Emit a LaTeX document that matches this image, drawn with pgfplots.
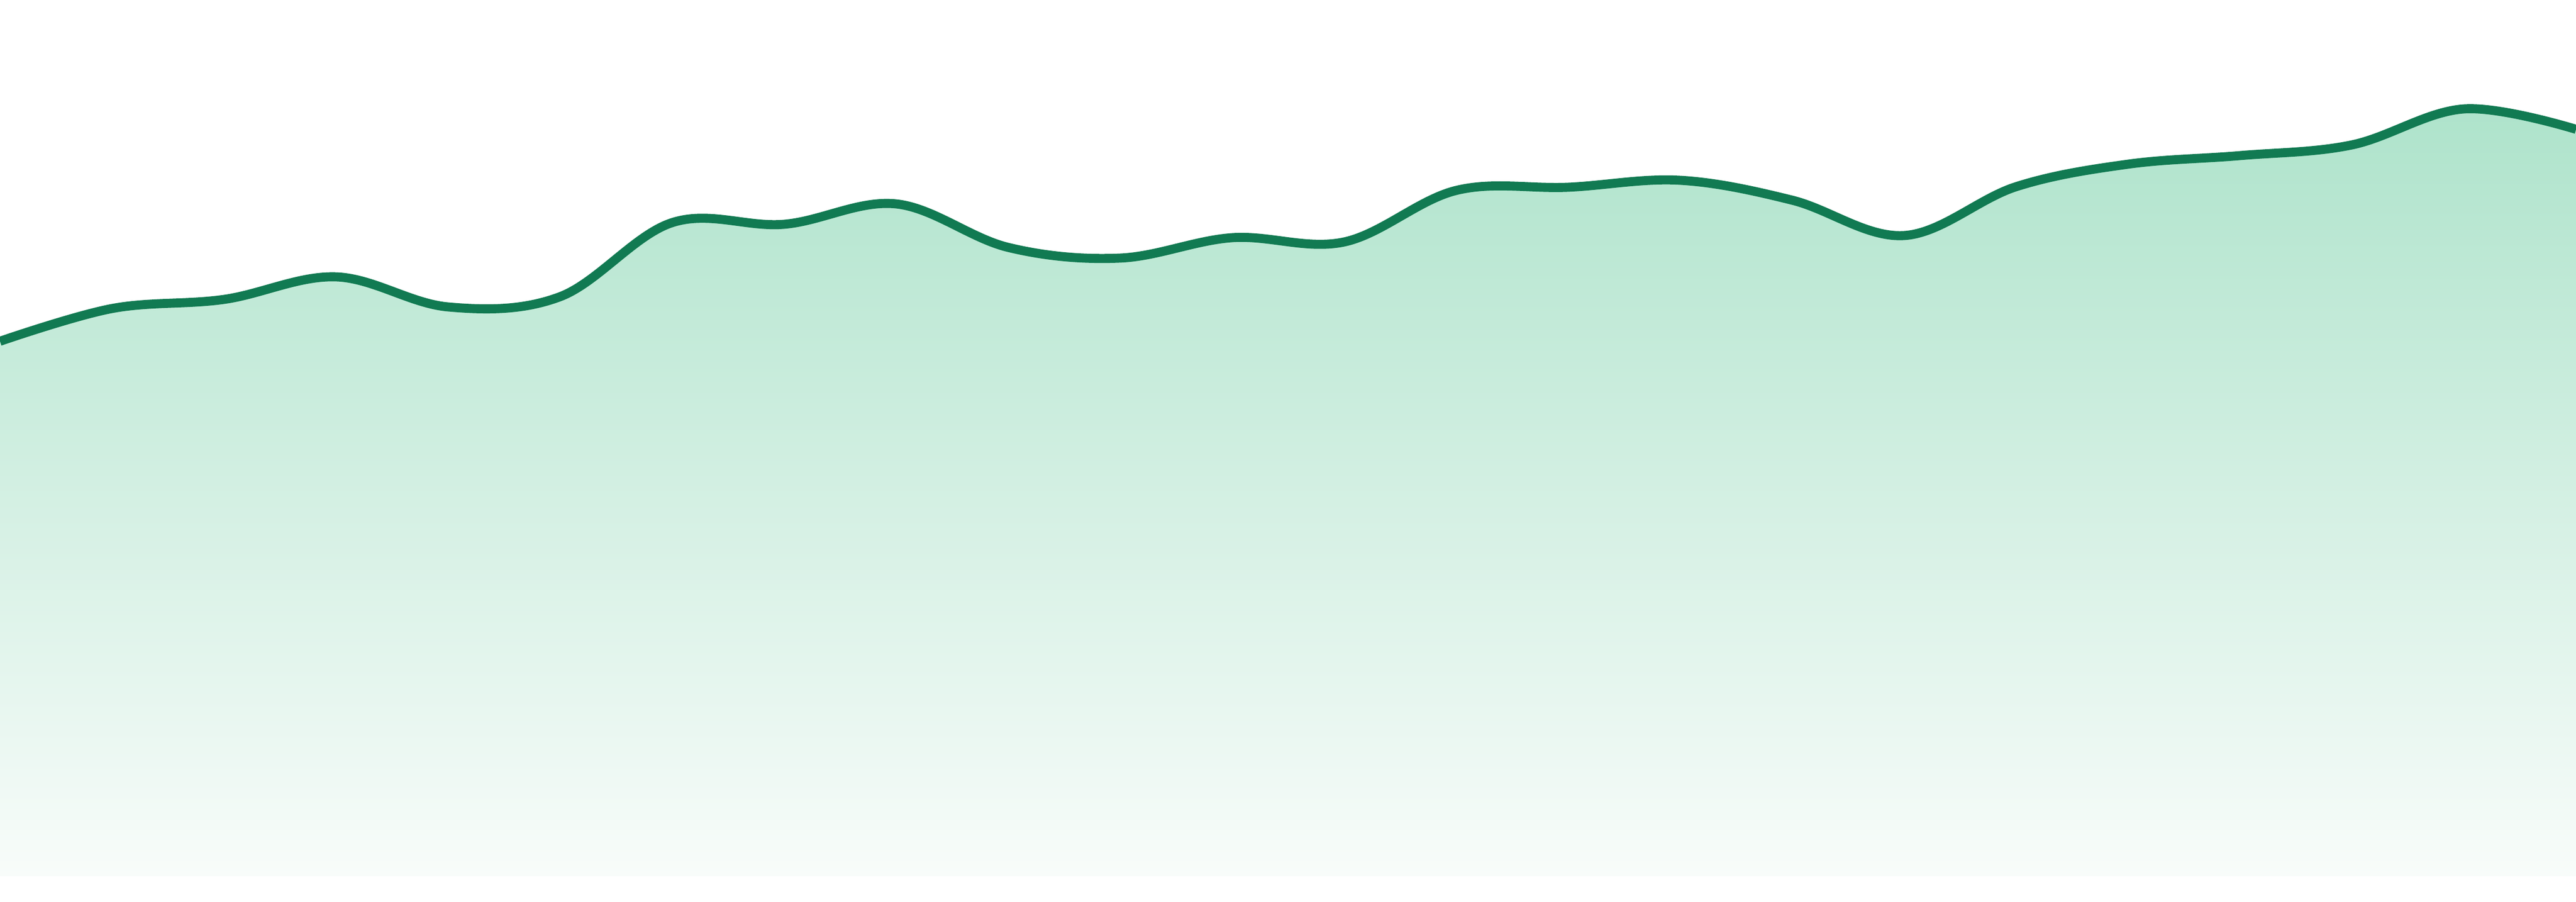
\documentclass[border=0pt]{standalone}
\usepackage{pgfplots}
\pgfplotsset{compat=1.18}

\definecolor{linegreen}{RGB}{17,122,82}
\definecolor{filltop}{RGB}{174,227,203}
\definecolor{fillbottom}{RGB}{248,252,250}

\begin{document}
\begin{tikzpicture}
  \begin{axis}[
      width=16cm,
      height=5.4433cm,
      scale only axis,
      hide axis,
      xmin=0, xmax=23,
      ymin=0, ymax=1633,
    ]
    % values in pixels above the base of the filled area
    \addplot[draw=none, top color=filltop, bottom color=fillbottom, smooth, tension=0.6]
      coordinates {
        (0,997) (1,1058) (2,1075) (3,1117) (4,1061) (5,1080)
        (6,1218) (7,1215) (8,1253) (9,1172) (10,1152) (11,1190)
        (12,1182) (13,1278) (14,1284) (15,1297) (16,1260) (17,1194)
        (18,1285) (19,1327) (20,1343) (21,1363) (22,1430) (23,1392)
      } \closedcycle;
    \addplot[linegreen, line width=1.6pt, smooth, tension=0.6]
      coordinates {
        (0,997) (1,1058) (2,1075) (3,1117) (4,1061) (5,1080)
        (6,1218) (7,1215) (8,1253) (9,1172) (10,1152) (11,1190)
        (12,1182) (13,1278) (14,1284) (15,1297) (16,1260) (17,1194)
        (18,1285) (19,1327) (20,1343) (21,1363) (22,1430) (23,1392)
      };
  \end{axis}
  \pgfresetboundingbox
  \path ([yshift=-0.1567cm]current axis.south west) rectangle (current axis.north east);
\end{tikzpicture}
\end{document}
